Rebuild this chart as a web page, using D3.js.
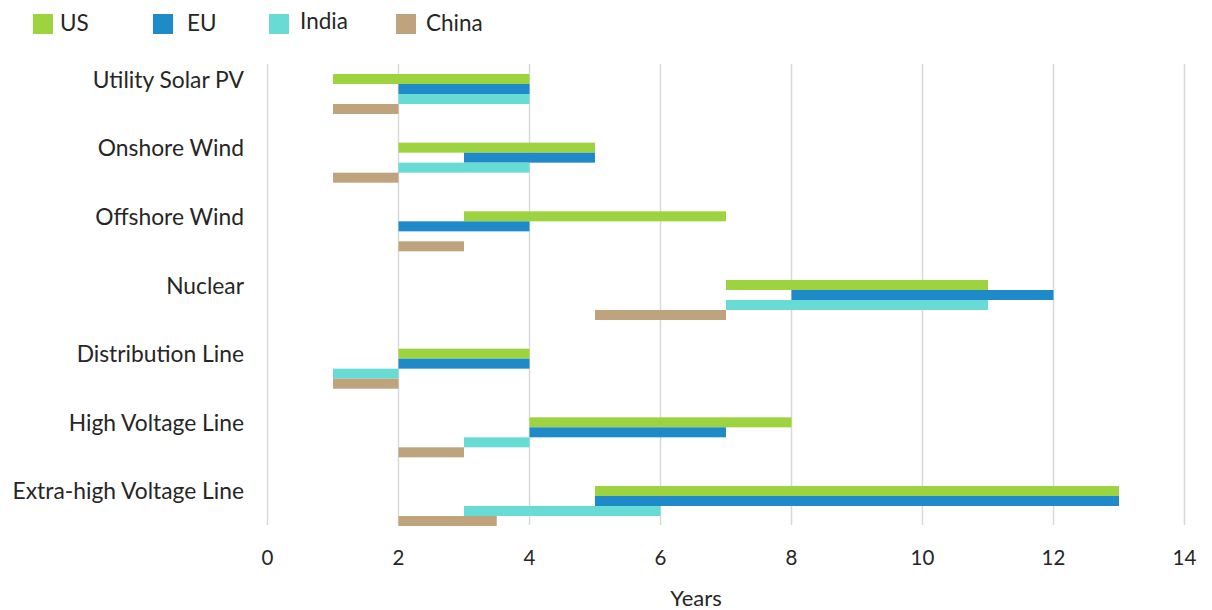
<!DOCTYPE html>
<html>
<head>
<meta charset="utf-8">
<script src="https://cdn.jsdelivr.net/npm/d3@7"></script>
<style>
  html, body { margin: 0; padding: 0; background: #fff; }
  svg { display: block; font-family: Lato, "Noto Sans", sans-serif; }
</style>
</head>
<body>
<svg id="chart" width="1212" height="610"></svg>
<script>
const categories = ["Utility Solar PV", "Onshore Wind", "Offshore Wind", "Nuclear", "Distribution Line", "High Voltage Line", "Extra-high Voltage Line"];
const seriesNames = ["US", "EU", "India", "China"];
const seriesColors = ["#9dd33f", "#1f8ac9", "#68dcd4", "#bea37c"];
// [start, end] years per category; null = no bar
const usRange    = [[1, 4], [2, 5], [3, 7], [7, 11], [2, 4], [4, 8], [5, 13]];
const euRange    = [[2, 4], [3, 5], [2, 4], [8, 12], [2, 4], [4, 7], [5, 13]];
const indiaRange = [[2, 4], [2, 4], null,   [7, 11], [1, 2], [3, 4], [3, 6]];
const chinaRange = [[1, 2], [1, 2], [2, 3], [5, 7],  [1, 2], [2, 3], [2, 3.5]];
const xTicks = [0, 2, 4, 6, 8, 10, 12, 14];
const xTitle = "Years";

const seriesData = [usRange, euRange, indiaRange, chinaRange];

const svg = d3.select("#chart");
const x = d3.scaleLinear().domain([0, 14]).range([267.5, 1184.5]);
const pad = 28.67 / 68.67;
const y = d3.scaleBand().domain(categories).range([59.67, 540.33]).paddingInner(pad).paddingOuter(pad / 2);
const ySub = d3.scaleBand().domain(seriesNames).range([0, y.bandwidth()]);
const gridTop = 64, gridBottom = 525;

// gridlines
svg.append("g").selectAll("line").data(xTicks).join("line")
  .attr("x1", d => x(d)).attr("x2", d => x(d))
  .attr("y1", gridTop).attr("y2", gridBottom)
  .attr("stroke", "#d9d9d9").attr("stroke-width", 1.5);

// bars
seriesNames.forEach((s, si) => {
  const rows = categories.map((c, ci) => ({ c, r: seriesData[si][ci] })).filter(d => d.r);
  svg.append("g").selectAll("rect").data(rows).join("rect")
    .attr("x", d => x(d.r[0]))
    .attr("width", d => x(d.r[1]) - x(d.r[0]))
    .attr("y", d => y(d.c) + ySub(s))
    .attr("height", ySub.bandwidth())
    .attr("fill", seriesColors[si]);
});

// category labels
svg.append("g").selectAll("text").data(categories).join("text")
  .attr("x", 244)
  .attr("y", d => y(d) + y.bandwidth() / 2 - 6.5)
  .attr("text-anchor", "end")
  .attr("font-size", 22.8)
  .attr("fill", "#262626")
  .text(d => d);

// x tick labels
svg.append("g").selectAll("text").data(xTicks).join("text")
  .attr("x", d => x(d))
  .attr("y", 565)
  .attr("text-anchor", "middle")
  .attr("font-size", 20.5)
  .attr("fill", "#262626")
  .text(d => d);

svg.append("text")
  .attr("x", 696).attr("y", 606)
  .attr("text-anchor", "middle")
  .attr("font-size", 22)
  .attr("fill", "#262626")
  .text(xTitle);

// legend
const legendX = [33, 153, 269, 396];
const legendTextX = [60, 187, 300, 426];
const lg = svg.append("g").selectAll("g").data(seriesNames).join("g");
lg.append("rect")
  .attr("x", (d, i) => legendX[i]).attr("y", 14)
  .attr("width", 20).attr("height", 20)
  .attr("fill", (d, i) => seriesColors[i]);
lg.append("text")
  .attr("x", (d, i) => legendTextX[i])
  .attr("y", (d, i) => i === 2 ? 29 : 31)
  .attr("font-size", 22.5)
  .attr("fill", "#262626")
  .text(d => d);
</script>
</body>
</html>
